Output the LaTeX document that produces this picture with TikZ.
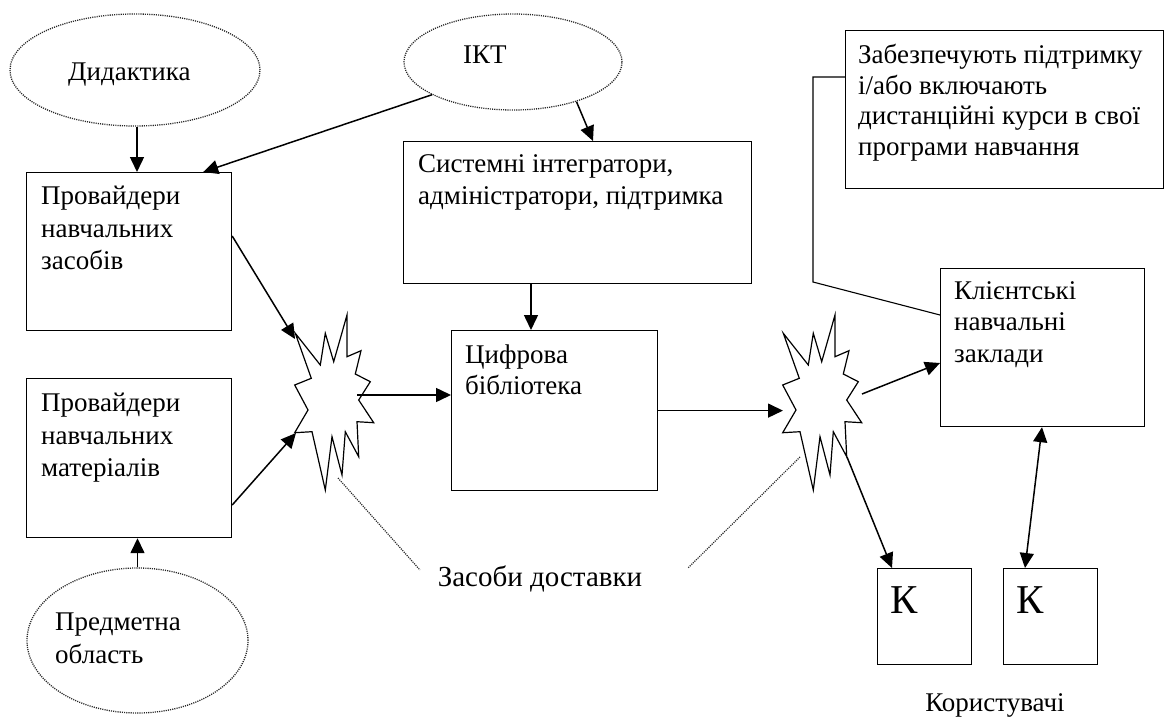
\documentclass[tikz,border=0pt]{standalone}
\usepackage{fontspec}
\setmainfont{Liberation Serif}
\usetikzlibrary{arrows.meta,shapes.geometric}
\newcommand{\boomshape}[1]{%
  \draw[boomline,shift={(#1)}] (-38.7,-71.7) -- (-22.7,-26.7) -- (-39.3,-20) -- (-26,5) -- (-39.3,27.7) -- (-22,26.7) -- (-8.7,85) -- (-2,31.7) -- (8,70) -- (11.3,26.7) -- (24.7,51.7) -- (23,16.7) -- (39.7,17.7) -- (24.7,-5) -- (36.3,-23.3) -- (21.3,-31) -- (27,-54.3) -- (13,-48.3) -- (13,-90) -- (-0.3,-43.3) -- (-8.7,-71.7) -- (-13.7,-40) -- cycle;}
\begin{document}
\begin{tikzpicture}[x=1pt,y=-1pt,
  box/.style={draw,line width=1.2pt,inner sep=0pt,anchor=north west},
  oval/.style={draw,ellipse,line width=1.3pt,dash pattern=on 1.1pt off 1.1pt,inner sep=0pt,black!85},
  txt/.style={anchor=north west,inner sep=0pt,align=left,font=\fontsize{27}{32.5}\selectfont},
  lbl/.style={inner sep=0pt,font=\fontsize{27}{32.5}\selectfont},
  arr/.style={line width=1.5pt,-{Triangle[length=15pt,width=14pt]}},
  darr/.style={line width=1.5pt,{Triangle[length=15pt,width=14pt]}-{Triangle[length=15pt,width=14pt]}},
  boomline/.style={line width=1.2pt,line join=miter},
  dots/.style={line width=1.2pt,dash pattern=on 1.1pt off 1.1pt,black!85},
  thin/.style={line width=1.1pt}]
\useasboundingbox (0,0) rectangle (1168,718);

% ellipses
\node[oval,minimum width=250,minimum height=112] (did) at (135,70) {};
\node[lbl,anchor=base west] (didt) at (68,80) {Дидактика};
\node[oval,minimum width=218,minimum height=96] (ikt) at (513,62) {};
\node[lbl,anchor=base west] (iktt) at (463,63) {ІКТ};
\node[oval,minimum width=221,minimum height=145] (pre) at (137.5,640.5) {};
\node[txt] (pret) at (55,613) {Предметна\\область};

% boxes
\node[box,minimum width=205,minimum height=158] (pz) at (26,172) {};
\node[txt] (pzt) at ([shift={(15,14)}]pz.north west) {Провайдери\\навчальних\\засобів};
\node[box,minimum width=205,minimum height=159] (pm) at (26,378) {};
\node[txt] (pmt) at ([shift={(15,15)}]pm.north west) {Провайдери\\навчальних\\матеріалів};
\node[box,minimum width=348,minimum height=142] (sys) at (403,141) {};
\node[txt] (syst) at ([shift={(15,13)}]sys.north west) {Системні інтегратори,\\адміністратори, підтримка};
\node[box,minimum width=206,minimum height=160] (cyf) at (451,330) {};
\node[txt,font=\fontsize{27}{31}\selectfont] (cyft) at ([shift={(14,15)}]cyf.north west) {Цифрова\\бібліотека};
\node[box,minimum width=204,minimum height=158] (kli) at (940,268) {};
\node[txt,font=\fontsize{27}{31.5}\selectfont] (klit) at ([shift={(14,13)}]kli.north west) {Клієнтські\\навчальні\\заклади};
\node[box,minimum width=318,minimum height=158] (cal) at (845,30) {};
\node[txt,font=\fontsize{27}{30.7}\selectfont] (calt) at ([shift={(13,14)}]cal.north west) {Забезпечують підтримку\\і/або включають\\дистанційні курси в свої\\програми навчання};
\node[box,minimum width=94,minimum height=96] (k1) at (877,568) {};
\node[lbl,anchor=base west,font=\fontsize{41}{44}\selectfont] (k1t) at (890,613) {К};
\node[box,minimum width=94,minimum height=96] (k2) at (1003,568) {};
\node[lbl,anchor=base west,font=\fontsize{41}{44}\selectfont] (k2t) at (1016,613) {К};
\node[lbl,anchor=base] (kor) at (995,711) {Користувачі};
\node[lbl,anchor=base,font=\fontsize{29}{32}\selectfont] (zd) at (540,586) {Засоби доставки};

% starbursts
\coordinate (s1) at (334,405);
\coordinate (s2) at (822,405);
\boomshape{s1}
\boomshape{s2}

% named points
\coordinate (c137) at (137,0);
\coordinate (c531) at (531,0);
\coordinate (s1ul) at ([shift={(-39,-66)}]s1);
\coordinate (s1ll) at ([shift={(-38,28)}]s1);
\coordinate (s1r) at ([shift={(23,-10)}]s1);
\coordinate (s1b) at ([shift={(4,73)}]s1);
\coordinate (s2l) at ([shift={(-39,5)}]s2);
\coordinate (s2r) at ([shift={(40,-11)}]s2);
\coordinate (s2b) at ([shift={(25,52)}]s2);
\coordinate (s2d) at ([shift={(-22,52)}]s2);
\coordinate (zdl) at (420,570);
\coordinate (zdr) at (688,568);

% connectors
\draw[arr] (did.south -| c137) -- (pz.north -| c137);
\draw[arr] (ikt.-158) -- ([xshift=-29pt]pz.north east);
\draw[arr] (ikt.-32) -- ([xshift=190pt]sys.north west);
\draw[arr] (sys.south -| c531) -- (cyf.north -| c531);
\draw[arr] ([yshift=-64pt]pz.north east) -- (s1ul);
\draw[arr] ([yshift=-127pt]pm.north east) -- (s1ll);
\draw[arr] (s1r) -- (s1r -| cyf.west);
\draw[arr] (cyf.east) -- (cyf.east -| s2l);
\draw[arr] (s2r) -- ([yshift=-95pt]kli.north west);
\draw[arr] (s2b) -- ([xshift=15pt]k1.north west);
\draw[darr] ([xshift=22pt]k2.north west) -- ([xshift=102pt]kli.south west);
\draw[arr] (pre.north) -- (pre.north |- pm.south);
\draw[thin] ([yshift=-47pt]cal.north west) -- ++(-32,0) -- ++(0,205) -- ([yshift=-47pt]kli.north west);
\draw[dots] (s1b) -- (zdl);
\draw[dots] (s2d) -- (zdr);
\end{tikzpicture}
\end{document}
